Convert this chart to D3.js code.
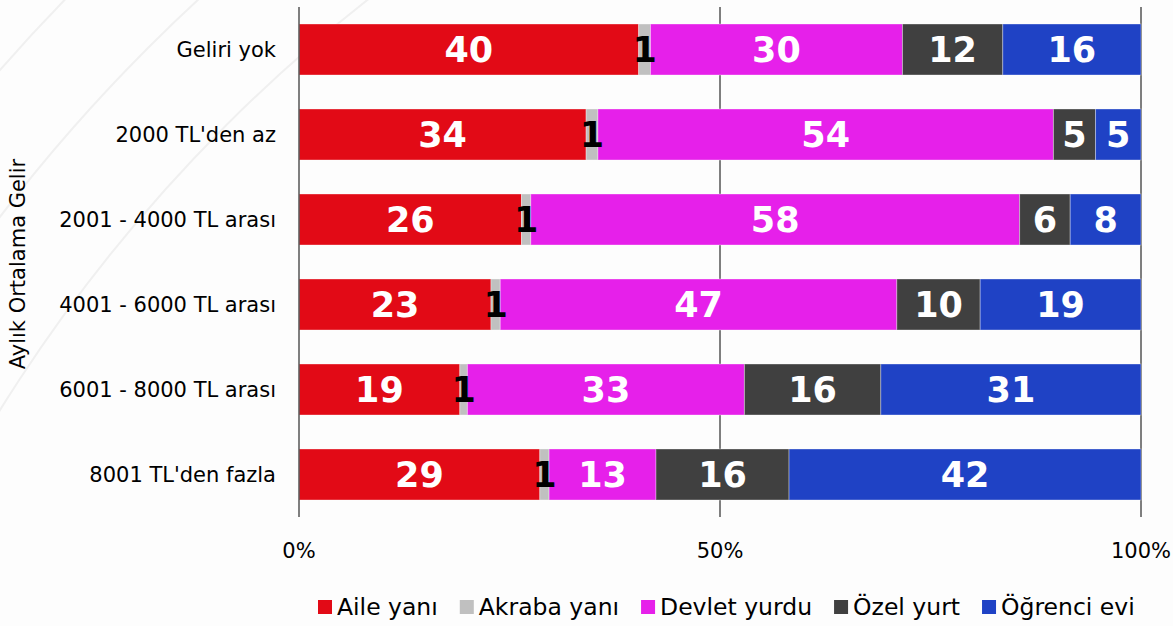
<!DOCTYPE html>
<html>
<head>
<meta charset="utf-8">
<title>Aylık Ortalama Gelir</title>
<script src="https://d3js.org/d3.v7.min.js"></script>
<style>
	body { margin: 0; background: #fdfdfd; }
	svg { display: block; }
	.cat { font-family: "DejaVu Sans", Verdana, sans-serif; font-size: 21px; fill: #000; }
	.val { font-family: "DejaVu Sans", Verdana, sans-serif; font-size: 35px; font-weight: bold; }
</style>
</head>
<body>
<div id="chart"></div>
<script>

// income groups (top to bottom)
var categories = ["Geliri yok", "2000 TL'den az", "2001 - 4000 TL arası", "4001 - 6000 TL arası", "6001 - 8000 TL arası", "8001 TL'den fazla"];
var series = ["Aile yanı", "Akraba yanı", "Devlet yurdu", "Özel yurt", "Öğrenci evi"];
var colors = ["#e20a16", "#c0c0c0", "#e620ea", "#404040", "#1f42c5"];

// percentages per series, one entry per category
var aileYani    = [40.3, 34.1, 26.4, 22.8, 19.1, 28.6];
var akrabaYani  = [1.4, 1.4, 1.1, 1.1, 0.9, 1.1];
var devletYurdu = [29.9, 54.1, 58.0, 47.1, 32.9, 12.7];
var ozelYurt    = [11.9, 5.0, 6.0, 9.9, 16.2, 15.8];
var ogrenciEvi  = [16.4, 5.4, 8.4, 19.1, 30.9, 41.8];
var xTicks = [0, 0.5, 1];

var width = 1173, height = 626;
var margin = {top: 7, left: 299, right: 32, bottom: 109};

var svg = d3.select("#chart").append("svg")
	.attr("width", width)
	.attr("height", height);

// faint decorative arcs in the background
var arcs = svg.append("g");
[1590, 1700, 1793, 1900].forEach(function (r) {
	arcs.append("circle")
		.attr("cx", 1350).attr("cy", 1250).attr("r", r)
		.attr("fill", "none").attr("stroke", "#f0f0f0").attr("stroke-width", 2);
});

var table = categories.map(function (c, i) {
	return {cat: c, "Aile yanı": aileYani[i], "Akraba yanı": akrabaYani[i], "Devlet yurdu": devletYurdu[i], "Özel yurt": ozelYurt[i], "Öğrenci evi": ogrenciEvi[i]};
});

var stacked = d3.stack().keys(series).offset(d3.stackOffsetExpand)(table);

var x = d3.scaleLinear().domain([0, 1]).range([margin.left, width - margin.right]);
var y = d3.scaleBand().domain(categories)
	.range([margin.top, height - margin.bottom])
	.paddingInner(0.4).paddingOuter(0.2);

// vertical grid lines at 50% and 100%
svg.append("g").selectAll("line")
	.data(xTicks.slice(1))
	.enter().append("line")
	.attr("x1", function (d) { return x(d); })
	.attr("x2", function (d) { return x(d); })
	.attr("y1", margin.top)
	.attr("y2", height - margin.bottom)
	.attr("stroke", "#000").attr("stroke-width", 1);

// bars
var layer = svg.append("g").selectAll("g")
	.data(stacked)
	.enter().append("g")
	.attr("fill", function (d, i) { return colors[i]; });

layer.selectAll("rect")
	.data(function (d) { return d; })
	.enter().append("rect")
	.attr("x", function (d) { return x(d[0]); })
	.attr("width", function (d) { return x(d[1]) - x(d[0]); })
	.attr("y", function (d) { return y(d.data.cat); })
	.attr("height", y.bandwidth())
	.attr("stroke", "rgba(255,255,255,0.35)")
	.attr("stroke-width", 1);

// value labels, drawn on top of all bars
var labels = [];
stacked.forEach(function (s) {
	s.forEach(function (v) { labels.push({key: s.key, v0: v[0], v1: v[1], cat: v.data.cat, value: v.data[s.key]}); });
});

svg.append("g").selectAll("text")
	.data(labels)
	.enter().append("text")
	.attr("class", "val")
	.attr("x", function (d) { return (x(d.v0) + x(d.v1)) / 2; })
	.attr("y", function (d) { return y(d.cat) + y.bandwidth() / 2; })
	.attr("dy", "0.36em")
	.attr("text-anchor", "middle")
	.attr("fill", function (d) { return d.key === "Akraba yanı" ? "#000" : "#fff"; })
	.text(function (d) { return Math.round(d.value); });

// y axis line
svg.append("line")
	.attr("x1", margin.left).attr("x2", margin.left)
	.attr("y1", margin.top).attr("y2", height - margin.bottom)
	.attr("stroke", "#555").attr("stroke-width", 1.5);

// category labels
svg.append("g").selectAll("text")
	.data(categories)
	.enter().append("text")
	.attr("class", "cat")
	.attr("x", margin.left - 23)
	.attr("y", function (d) { return y(d) + y.bandwidth() / 2; })
	.attr("dy", "0.35em")
	.attr("text-anchor", "end")
	.text(function (d) { return d; });

// x tick labels
svg.append("g").selectAll("text")
	.data(xTicks)
	.enter().append("text")
	.attr("class", "cat")
	.attr("x", function (d) { return x(d); })
	.attr("y", 558)
	.attr("text-anchor", "middle")
	.text(function (d) { return d3.format(".0%")(d); });

// axis title
svg.append("text")
	.attr("class", "cat")
	.attr("transform", "translate(25,264) rotate(-90)")
	.attr("text-anchor", "middle")
	.text("Aylık Ortalama Gelir");

// legend
var legend = svg.append("g");
var lx = 318;
series.forEach(function (s, i) {
	var item = legend.append("g").attr("transform", "translate(" + lx + ",0)");
	item.append("rect")
		.attr("x", 0).attr("y", 600).attr("width", 14).attr("height", 14)
		.attr("fill", colors[i]);
	var t = item.append("text")
		.attr("class", "cat")
		.style("font-size", "23.5px")
		.attr("x", 19).attr("y", 615)
		.text(s);
	lx += 19 + t.node().getComputedTextLength() + 22;
});

</script>
</body>
</html>
